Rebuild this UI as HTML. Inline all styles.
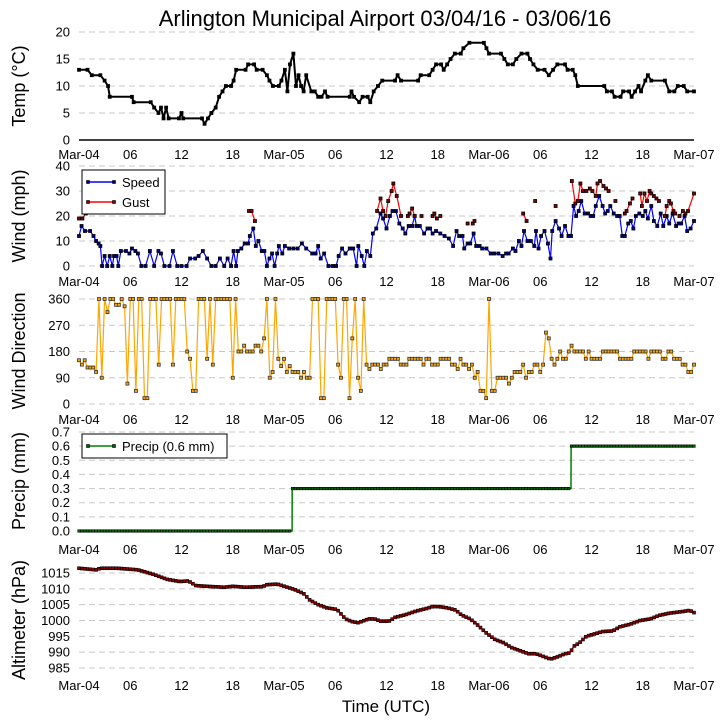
<!DOCTYPE html>
<html><head><meta charset="utf-8"><style>
body{margin:0;background:#fff}
svg{display:block;font-family:"Liberation Sans","DejaVu Sans",sans-serif}
</style></head><body>
<svg id="c" width="726" height="725"></svg>
<script>
const xTickLabels=["Mar-04","06","12","18","Mar-05","06","12","18","Mar-06","06","12","18","Mar-07"];
const xTickHours=[0,6,12,18,24,30,36,42,48,54,60,66,72];
const tempT=[0,1,1.5,2.5,3,3.4,3.6,6.2,6.4,8.4,8.8,9.3,9.6,9.9,10.2,10.5,11.7,12,12.2,14.4,14.7,15.1,15.5,16,16.4,16.8,17.2,17.8,18.1,18.4,19.5,19.8,20.5,20.8,21.5,22,22.3,22.7,23.4,23.7,24.1,24.4,24.7,25.1,25.4,25.7,26,26.3,26.6,27.2,27.6,28,28.4,28.8,29.1,31.7,31.9,32.2,32.8,33.2,33.8,34.1,34.5,35,35.5,37,37.3,37.7,39.7,40,41,41.4,41.8,42.4,42.7,43.1,43.5,44,44.7,45,45.7,47.4,47.7,48,49.4,49.8,50.2,50.8,51.2,51.8,52.5,52.8,53.2,53.7,54.5,55,55.5,56,56.9,57.2,57.8,58.1,58.4,61.5,61.8,62.4,62.7,63.4,63.7,64.4,64.7,65.1,65.5,65.8,66.3,66.6,67,68.6,69.1,69.7,70.1,70.8,71.2,72];
const tempV=[13,13,12,12,11,10,8,8,7,7,6,5,6,4,6,4,4,5,4,4,3,4,5,6,8,9,10,10,11,13,13,14,14,13,13,12,11,10,10,11,13,9,14,16,10,12,10,9,12,9,9,8,8,9,8,8,9,8,7,8,8,7,9,10,11,11,12,11,11,12,12,13,14,14,13,14,15,16,16,17,18,18,17,16,16,15,14,14,15,16,16,15,14,13,13,12,13,14,14,13,13,12,10,10,9,9,8,8,9,9,8,9,10,9,11,12,11,11,9,9,10,10,9,9];
const speedT=[0,0.3,0.7,1.3,1.7,2,2.3,2.5,2.7,3,3.3,3.6,3.9,4.1,4.4,4.6,4.9,5.5,5.9,6.2,6.6,6.9,7.3,7.8,8.3,8.8,9.3,9.6,10,10.6,11,11.5,12,12.6,13,13.6,14,14.5,15,15.5,16,16.5,17,17.4,17.8,18.1,18.4,18.6,19,19.4,19.8,20,20.4,20.7,21,21.4,21.7,22,22.3,22.6,22.9,23.2,23.4,23.8,24.1,24.6,25.1,25.6,26.1,26.6,27.3,27.7,28,28.3,28.7,29.2,29.7,30.1,30.4,30.8,31.2,31.7,32.1,32.5,32.7,33.1,33.4,33.7,34.1,34.4,34.8,35.3,35.6,36,36.4,36.7,37.1,37.5,37.9,38.2,38.6,39,39.3,39.5,39.9,40.4,40.8,41.1,41.4,41.8,42.3,42.8,43.3,43.8,44.2,44.5,44.9,45.1,45.5,45.8,46.2,46.5,46.9,47.2,47.7,48.2,48.6,49.1,49.6,50,50.3,50.8,51.1,51.5,51.8,52.1,52.5,52.9,53.3,53.5,53.8,54.1,54.5,54.9,55.2,55.4,55.8,56.2,56.5,56.9,57.3,57.6,57.9,58.2,58.5,58.8,59.2,59.6,59.9,60.2,60.5,60.9,61.3,61.6,61.9,62.2,62.6,63,63.3,63.6,63.9,64.3,64.6,64.9,65.2,65.6,66,66.3,66.6,67,67.3,67.7,68.1,68.4,68.8,69.1,69.5,69.9,70.2,70.5,70.9,71.2,71.6,72];
const speedV=[12,16,14,14,12,10,9,8,0,4,0,4,0,4,4,0,6,6,5,7,6,5,0,0,6,0,6,5,0,0,6,0,0,0,3,3,4,6,3,0,0,3,0,3,0,6,0,6,7,9,9,12,15,8,10,6,6,0,3,5,0,5,8,5,8,7,7,7,9,7,5,5,8,3,5,0,0,0,4,7,5,7,7,0,8,4,0,6,4,13,15,21,19,15,20,22,22,17,15,13,16,16,20,16,16,13,15,15,13,14,13,12,11,8,14,12,12,7,9,9,13,8,8,7,7,5,5,5,4,5,5,7,6,10,8,14,10,10,8,14,7,12,14,9,3,14,18,15,12,16,12,12,24,20,22,26,21,21,20,20,24,28,24,21,22,24,21,20,20,12,12,17,18,15,20,21,20,22,19,24,18,16,21,16,20,17,21,16,17,17,20,14,15,18];
const gustT=[0,0.4,0.8,null,19.9,20.2,20.6,null,34.9,35.3,35.6,35.9,36.2,36.6,36.8,37.2,37.7,null,38.5,38.7,39,39.3,null,40.1,null,41.4,41.6,41.9,42.3,null,45.5,null,46.1,46.3,null,52,52.4,null,53.4,null,55.8,null,57.7,58.1,58.4,58.7,59,59.4,59.8,60.1,60.5,60.7,61,61.4,61.7,62,null,62.8,null,63.9,64.1,64.5,64.8,null,65.7,65.9,66.2,66.5,66.8,67,67.3,67.6,67.9,null,68.6,68.8,69.1,69.3,69.6,69.8,null,70.3,70.7,71,71.3,72];
const gustV=[19,19,21,null,22,22,18,null,22,27,22,20,26,30,33,28,20,null,20,21,23,20,null,20,null,20,21,19,20,null,17,null,17,18,null,21,18,null,26,null,24,null,34,25,26,33,30,30,31,30,28,33,34,32,31,30,null,26,null,21,22,25,27,null,29,24,29,26,30,29,28,27,26,null,20,24,26,25,22,21,null,20,22,21,22,29];
const dirV=[150,135,150,125,125,125,110,360,90,360,315,360,360,340,340,360,335,70,360,360,45,360,360,20,20,360,360,360,135,360,360,360,360,135,360,360,360,360,180,155,45,45,360,360,360,155,360,135,360,360,360,360,360,360,90,360,180,180,200,180,180,180,200,200,180,225,360,90,110,360,155,130,155,110,130,110,110,110,90,110,90,90,360,360,360,20,20,360,360,360,360,135,90,360,360,20,225,360,90,45,360,135,120,135,135,135,120,135,135,155,155,155,155,135,135,135,155,155,155,155,155,135,155,155,135,135,135,155,155,155,155,135,135,120,155,135,135,120,135,90,110,45,45,20,360,45,45,90,90,90,90,70,90,110,110,110,135,90,110,110,135,135,110,135,245,225,155,135,155,180,155,155,180,200,180,180,180,180,155,180,155,155,155,155,180,180,180,180,180,180,155,155,155,155,155,180,180,180,180,180,155,180,180,180,180,155,155,180,180,155,155,155,135,135,110,110,135];
const precipT=[0,24.95,24.96,57.6,57.61,72];
const precipV=[0,0,0.3,0.3,0.6,0.6];
const presT=[0,2,2.5,4.5,6.9,8.8,10.3,11.8,12.8,13.7,15.6,17,18,19.5,21.5,22,23.2,24.4,25.3,26.3,27,28,29,30.2,31.2,31.9,32.7,33.9,34.6,35.3,36.3,37,38.2,39.5,40.7,41.4,42.1,43.1,44.1,44.8,45.8,46.7,47.7,48.7,49.7,50.6,51.6,52.6,53.5,54.5,55.2,56,56.9,57.5,57.9,58.6,59.4,60.4,61.3,62.5,63.3,64.5,65.7,66.9,67.9,69.1,70.6,71.5,72];
const presV=[1016.5,1016,1016.5,1016.5,1016,1014.5,1013,1012.3,1012.5,1011,1010.7,1010.5,1010.8,1010.5,1010.7,1011.3,1011.5,1010.5,1009.7,1008.5,1006.5,1005,1004,1003.5,1000.5,999.7,999.3,1000.5,1000.5,999.8,999.8,1001,1001.8,1003,1003.8,1004.4,1004.4,1004,1003.3,1001.7,1000.5,998.5,996,994,993,991.5,990.5,989.5,989.5,988.5,987.8,988.5,989.5,989.8,991.8,993,995,995.8,996.5,996.7,998,998.8,1000,1000.5,1001.6,1002.3,1002.8,1003.2,1002.5];
const tempTicks=[0,5,10,15,20],windTicks=[0,10,20,30,40],dirTicks=[0,90,180,270,360],precTicks=[0,0.1,0.2,0.3,0.4,0.5,0.6,0.7],presTicks=[985,990,995,1000,1005,1010,1015];

const NS="http://www.w3.org/2000/svg",svg=document.getElementById('c');
function el(t,a,p){const e=document.createElementNS(NS,t);for(const k in a)e.setAttribute(k,a[k]);(p||svg).appendChild(e);return e;}
const X0=79,X1=694;
const x=h=>X0+h*(X1-X0)/72;
function txt(s,a,name){const e=el('text',a);e.textContent=s;

return e;}
function panel(id,yTop,yBot,vMax,vMin,ticks,fmt,label,labelY,xlabY,spine){
 const g=el('g',{});
 
 
 const y=v=>yBot-(v-vMin)*(yBot-yTop)/(vMax-vMin);
 ticks.forEach(t=>{const yy=y(t);
  const ln=el('line',{x1:X0,x2:X1,y1:yy,y2:yy,stroke:'#c8c8c8','stroke-dasharray':'6,4','stroke-width':1},g);
  
  
  txt(fmt(t),{x:70,y:yy+4.5,'text-anchor':'end','font-size':13,fill:'#000'},id+'-y-tick');});
 if(spine){const s=el('line',{x1:X0,x2:X1,y1:yBot,y2:yBot,stroke:'#000','stroke-width':1.5},g);
  
  }
 xTickHours.forEach((h,i)=>{txt(xTickLabels[i],{x:x(h),y:xlabY+5,'text-anchor':'middle','font-size':13},id+'-x-tick');});
 txt(label,{x:0,y:0,transform:`translate(25,${labelY}) rotate(-90)`,'text-anchor':'middle','font-size':18},id+'-y-axis-title');
 return y;}
function series(name,T,V,y,color,lw,mk,mkStroke){
 let d='',pen=false;
 for(let i=0;i<T.length;i++){if(T[i]===null){pen=false;continue;}
  d+=(pen?'L':'M')+x(T[i]).toFixed(1)+','+y(V[i]).toFixed(1);pen=true;}
 const p=el('path',{d,fill:'none',stroke:color,'stroke-width':lw,'stroke-linejoin':'round'});
 
 
 for(let i=0;i<T.length;i++){if(T[i]===null)continue;
  const r=el('rect',{x:x(T[i])-1.5,y:y(V[i])-1.5,width:3,height:3,fill:mk,stroke:mkStroke,'stroke-width':0.8});
  
  }}
function legend(name,bx,by,w,items){
 const r=el('rect',{x:bx,y:by,width:w,height:items.length*20+4,fill:'#fff',stroke:'#000','stroke-width':1});
 
 
 items.forEach((it,i)=>{const yy=by+12+i*20;
  const l=el('line',{x1:bx+6,x2:bx+32,y1:yy,y2:yy,stroke:it[1],'stroke-width':1.5});
  
  
  [bx+6,bx+32].forEach(px=>{const m=el('rect',{x:px-1.5,y:yy-1.5,width:3,height:3,fill:it[2],stroke:'#000','stroke-width':0.6});
   
   });
  txt(it[0],{x:bx+40,y:yy+5,'font-size':13},name+'-entry');});}

txt('Arlington Municipal Airport 03/04/16 - 03/06/16',{x:385,y:26,'text-anchor':'middle','font-size':22},'chart-title');
const yT=panel('temp',32,140,20,0,tempTicks,v=>v,'Temp (°C)',86,154,true);
series('temp',tempT,tempV,yT,'#000',2,'#000','#000');
const yW=panel('wind',166,266,40,0,windTicks,v=>v,'Wind (mph)',216,281,false);
series('speed',speedT,speedV,yW,'#0000ff',1.2,'#00008b','#000');
series('gust',gustT,gustV,yW,'#ff0000',1.2,'#8b0000','#000');
legend('wind-legend',82,170,83,[['Speed','#0000ff','#00008b'],['Gust','#ff0000','#8b0000']]);
const yD=panel('direction',299,404,360,0,dirTicks,v=>v,'Wind Direction',351,419,false);
const dirT=dirV.map((v,i)=>i*72/(dirV.length-1));
series('direction',dirT,dirV,yD,'#ffa500',1.2,'#ffa500','#333');
const yP=panel('precip',432,531,0.7,0,precTicks,v=>v.toFixed(1),'Precip (mm)',481,549,false);
series('precip',precipT,precipV,yP,'#008000',1.5,'none','none');
const pm=[];for(let i=0;i<=216;i++){const h=i/3;let v=0;for(let j=0;j<precipT.length;j++)if(precipT[j]<=h)v=precipV[j];pm.push([h,v]);}
pm.forEach(q=>{const r=el('rect',{x:x(q[0])-1.3,y:yP(q[1])-1.3,width:2.6,height:2.6,fill:'#006400',stroke:'#000','stroke-width':0.5});
 
 });
legend('precip-legend',82,434,145,[['Precip (0.6 mm)','#008000','#006400']]);
const yA=panel('altimeter',573,668,1015,985,presTicks,v=>v,'Altimeter (hPa)',620,685,false);
series('altimeter',presT,presV,yA,'#ff0000',1.5,'none','none');
for(let i=0;i<=216;i++){const h=i/3;let k=0;while(k<presT.length-2&&presT[k+1]<h)k++;
 const f=(h-presT[k])/(presT[k+1]-presT[k]);const v=presV[k]+(presV[k+1]-presV[k])*Math.max(0,Math.min(1,f));
 const r=el('rect',{x:x(h)-1.5,y:yA(v)-1.5,width:3,height:3,fill:'#8b0000',stroke:'#000','stroke-width':0.6});
 
 }
txt('Time (UTC)',{x:386,y:712,'text-anchor':'middle','font-size':17},'x-axis-title');
</script>
</body></html>
